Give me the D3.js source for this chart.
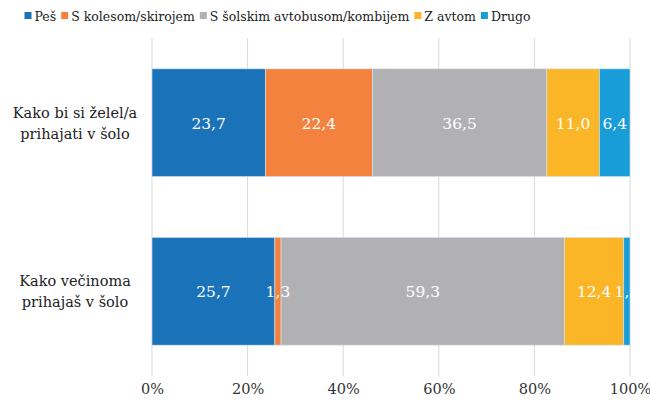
<!DOCTYPE html>
<html>
<head>
<meta charset="utf-8">
<script src="https://cdn.jsdelivr.net/npm/d3@7"></script>
<style>
  body { margin: 0; background: #fff; }
</style>
</head>
<body>
<div id="chart"></div>
<script>
// data
var categories = ["Kako bi si želel/a prihajati v šolo", "Kako večinoma prihajaš v šolo"];
var categoryLines = [["Kako bi si želel/a", "prihajati v šolo"], ["Kako večinoma", "prihajaš v šolo"]];
var series = ["Peš", "S kolesom/skirojem", "S šolskim avtobusom/kombijem", "Z avtom", "Drugo"];
var colors = ["#1a73b9", "#f3823f", "#b1b1b4", "#fab627", "#199dd9"];
var pesValues = [23.7, 25.7];
var kolesoValues = [22.4, 1.3];
var busValues = [36.5, 59.3];
var avtoValues = [11.0, 12.4];
var drugoValues = [6.4, 1.3];
var tickValues = [0, 0.2, 0.4, 0.6, 0.8, 1.0];

var width = 650, height = 405;
var FONT = "'DejaVu Serif', serif";
var plot = {left: 152, right: 630, top: 38, bottom: 376};

var svg = d3.select("#chart").append("svg")
  .attr("width", width)
  .attr("height", height)
  .attr("font-family", FONT);

var x = d3.scaleLinear().domain([0, 1]).range([plot.left, plot.right]);
var y = d3.scaleBand().domain(categories).range([plot.top, plot.bottom]).paddingInner(0.361).paddingOuter(0.183);

// gridlines
svg.append("g").selectAll("line")
  .data(tickValues)
  .enter().append("line")
  .attr("x1", function(d){ return x(d); })
  .attr("x2", function(d){ return x(d); })
  .attr("y1", plot.top)
  .attr("y2", plot.bottom)
  .attr("stroke", "#d9d9d9")
  .attr("stroke-width", 1);

// x axis labels
var xAxis = d3.axisBottom(x).tickValues(tickValues).tickSize(0).tickPadding(0).tickFormat(d3.format(".0%"));
var axG = svg.append("g")
  .attr("transform", "translate(0,384)")
  .call(xAxis);
axG.select(".domain").remove();
axG.selectAll("text").attr("font-size", 14.5).attr("fill", "#333").attr("font-family", FONT);

// stack
var table = categories.map(function(c, i){
  return {cat: c, vals: [pesValues[i], kolesoValues[i], busValues[i], avtoValues[i], drugoValues[i]]};
});

svg.append("defs").append("clipPath").attr("id", "plotclip")
  .append("rect")
  .attr("x", plot.left).attr("y", 0)
  .attr("width", plot.right - plot.left + 1).attr("height", height);

table.forEach(function(row){
  var total = d3.sum(row.vals);
  var acc = 0;
  var segs = row.vals.map(function(v, j){
    var s = {v: v, j: j, x0: x(acc / total), x1: x((acc + v) / total)};
    acc += v;
    return s;
  });
  var g = svg.append("g");
  // rects first, then labels so small-segment labels aren't covered
  g.selectAll("rect").data(segs).enter().append("rect")
    .attr("x", function(d){ return d.x0; })
    .attr("y", y(row.cat))
    .attr("width", function(d){ return d.x1 - d.x0; })
    .attr("height", y.bandwidth())
    .attr("fill", function(d){ return colors[d.j]; })
    .attr("stroke", "#d6e4f2")
    .attr("stroke-width", 0.6);
  g.selectAll("text").data(segs).enter().append("text")
    .attr("x", function(d){ return (d.x0 + d.x1) / 2; })
    .attr("y", y(row.cat) + y.bandwidth() / 2 + 6)
    .attr("text-anchor", "middle")
    .attr("font-size", 15.5)
    .attr("font-family", FONT)
    .attr("fill", "#fff")
    .attr("clip-path", "url(#plotclip)")
    .text(function(d){ return d3.format(".1f")(d.v).replace(".", ","); });
});

// category labels
categories.forEach(function(c, i){
  var t = svg.append("text")
    .attr("text-anchor", "middle")
    .attr("font-size", 14.5)
    .attr("font-family", FONT)
    .attr("fill", "#222");
  categoryLines[i].forEach(function(line, k){
    t.append("tspan")
      .attr("x", 75)
      .attr("y", y(c) + y.bandwidth() / 2 - 5 + k * 21)
      .text(line);
  });
});

// legend - laid out by measured text width, centred over 35..520
var legend = svg.append("g");
var cursor = 0;
series.forEach(function(s, i){
  var item = legend.append("g").attr("transform", "translate(" + cursor + ",0)");
  item.append("rect")
    .attr("x", 0).attr("y", 12)
    .attr("width", 7).attr("height", 7)
    .attr("fill", colors[i]);
  var t = item.append("text")
    .attr("x", 10).attr("y", 21)
    .attr("font-size", 12.5)
    .attr("font-family", FONT)
    .attr("fill", "#222")
    .text(s);
  cursor += 10 + t.node().getComputedTextLength() + 5;
});
cursor -= 5;
legend.attr("transform", "translate(" + (277.5 - cursor / 2) + ",0)");
</script>
</body>
</html>
